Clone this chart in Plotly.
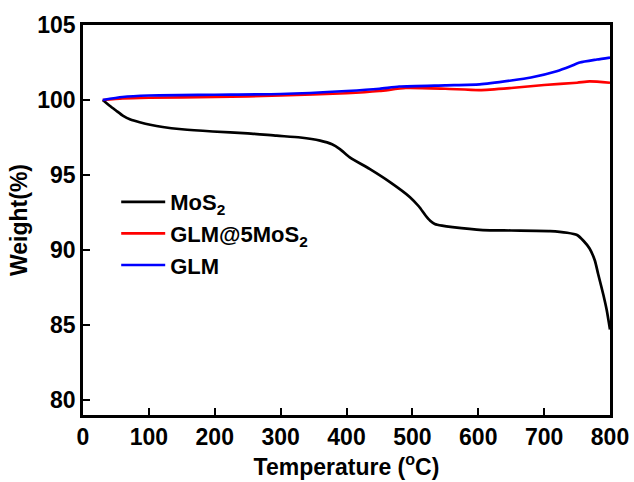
import plotly.graph_objects as go

temp_mos2 = [30, 41, 50, 61, 72, 86, 102, 121, 150, 197, 250, 294, 330, 360, 378, 390, 405, 435, 466, 496, 510, 520, 527, 534, 545, 561, 607, 650, 709, 735, 750, 760, 769, 777, 782, 790, 795, 800]
w_mos2 = [100.0, 99.6, 99.3, 98.94, 98.7, 98.52, 98.35, 98.2, 98.05, 97.9, 97.78, 97.62, 97.5, 97.29, 97.05, 96.73, 96.18, 95.41, 94.53, 93.54, 92.9, 92.3, 91.95, 91.74, 91.62, 91.52, 91.33, 91.3, 91.26, 91.15, 91.0, 90.6, 90.1, 89.3, 88.4, 87.0, 86.0, 84.7]

temp_glm5 = [30, 60, 100, 200, 300, 400, 450, 490, 550, 602, 650, 700, 750, 769, 800]
w_glm5 = [100.0, 100.1, 100.15, 100.2, 100.3, 100.45, 100.6, 100.8, 100.75, 100.66, 100.8, 101.0, 101.15, 101.24, 101.15]

temp_glm = [30, 60, 100, 200, 300, 400, 450, 480, 550, 602, 650, 680, 719, 740, 754, 780, 800]
w_glm = [100.0, 100.2, 100.3, 100.35, 100.4, 100.6, 100.75, 100.9, 100.98, 101.04, 101.3, 101.5, 101.92, 102.25, 102.5, 102.7, 102.83]

x_ticks = [0, 100, 200, 300, 400, 500, 600, 700, 800]
y_ticks = [80, 85, 90, 95, 100, 105]

font_family = "Liberation Sans, Arial, sans-serif"

fig = go.Figure()
fig.add_trace(go.Scatter(x=temp_mos2, y=w_mos2, mode="lines", name="MoS<sub>2</sub>",
                         line=dict(color="black", width=2.7, shape="spline", smoothing=0.6)))
fig.add_trace(go.Scatter(x=temp_glm5, y=w_glm5, mode="lines", name="GLM@5MoS<sub>2</sub>",
                         line=dict(color="#ff0000", width=2.7, shape="spline", smoothing=0.6)))
fig.add_trace(go.Scatter(x=temp_glm, y=w_glm, mode="lines", name="GLM",
                         line=dict(color="#0000ff", width=2.7, shape="spline", smoothing=0.6)))

axis_common = dict(showline=True, linecolor="black", linewidth=2.5, mirror=True,
                   ticks="inside", ticklen=7, tickwidth=2, tickcolor="black",
                   showgrid=False, zeroline=False, automargin=False,
                   tickfont=dict(family=font_family, size=23, color="black", weight="bold"))

fig.update_xaxes(range=[0, 800], tickvals=x_ticks,
                 title=dict(text="Temperature (<sup>o</sup>C)", standoff=0,
                            font=dict(family=font_family, size=23, color="black", weight="bold")),
                 **axis_common)
fig.update_yaxes(range=[79, 105], tickvals=y_ticks,
                 title=dict(text="Weight(%)", standoff=4,
                            font=dict(family=font_family, size=23, color="black", weight="bold")),
                 **axis_common)

fig.update_layout(
    width=634, height=482,
    margin=dict(l=83, r=24, t=25, b=67),
    paper_bgcolor="white", plot_bgcolor="white",
    showlegend=True,
    legend=dict(x=0.063, y=0.60, xanchor="left", yanchor="top",
                bgcolor="rgba(0,0,0,0)", borderwidth=0,
                font=dict(family=font_family, size=22, color="black", weight="bold"),
                itemwidth=44),
)

fig.write_html("out.html", config={"displayModeBar": False},
               post_script="document.body.style.margin='0';document.body.style.overflow='hidden';")
